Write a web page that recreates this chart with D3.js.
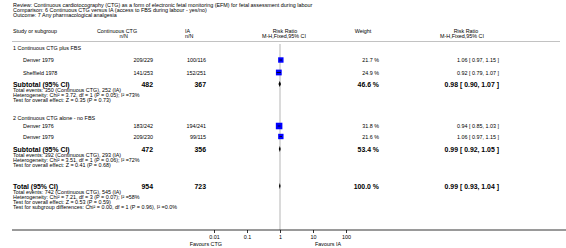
<!DOCTYPE html>
<html>
<head>
<meta charset="utf-8">
<script src="https://cdn.jsdelivr.net/npm/d3@7"></script>
<style>
  body { margin: 0; background: #fff; }
  text { font-family: "Liberation Sans", Arial, sans-serif; fill: #000; }
</style>
</head>
<body>
<div class="forest"></div>
<script>
// title lines
const titleLines = [
  "Review:  Continuous cardiotocography (CTG) as a form of electronic fetal monitoring (EFM) for fetal assessment during labour",
  "Comparison:  6 Continuous CTG versus IA (access to FBS during labour - yes/no)",
  "Outcome:  7 Any pharmacological analgesia"
]

// study rows
const groupNames = ["1 Continuous CTG plus FBS", "2 Continuous CTG alone - no FBS"]
const studies = ["Denver 1979", "Sheffield 1978", "Denver 1976", "Denver 1979"]
const ctgEvents = [209, 141, 183, 209]
const ctgTotal = [229, 253, 242, 230]
const iaEvents = [100, 152, 194, 99]
const iaTotal = [116, 251, 241, 115]
const weights = [21.7, 24.9, 31.8, 21.6]
const rr = [1.06, 0.92, 0.94, 1.06]
const rrLo = [0.97, 0.79, 0.85, 0.97]
const rrHi = [1.15, 1.07, 1.03, 1.15]

// subtotal / total rows
const subLabels = ["Subtotal (95% CI)", "Subtotal (95% CI)", "Total (95% CI)"]
const subCtg = [482, 472, 954]
const subIa = [367, 356, 723]
const subWeights = [46.6, 53.4, 100.0]
const subRR = [0.98, 0.99, 0.99]
const subLo = [0.90, 0.92, 0.93]
const subHi = [1.07, 1.05, 1.04]
const subStats = [
  ["Total events: 350 (Continuous CTG), 252 (IA)",
   "Heterogeneity: Chi² = 3.72, df = 1 (P = 0.05); I² =73%",
   "Test for overall effect: Z = 0.35 (P = 0.73)"],
  ["Total events: 392 (Continuous CTG), 293 (IA)",
   "Heterogeneity: Chi² = 3.51, df = 1 (P = 0.06); I² =72%",
   "Test for overall effect: Z = 0.41 (P = 0.68)"],
  ["Total events: 742 (Continuous CTG), 545 (IA)",
   "Heterogeneity: Chi² = 7.21, df = 3 (P = 0.07); I² =58%",
   "Test for overall effect: Z = 0.53 (P = 0.59)",
   "Test for subgroup differences: Chi² = 0.00, df = 1 (P = 0.96), I² =0.0%"]
]

const tickValues = [0.01, 0.1, 1, 10, 100]
const favours = ["Favours CTG", "Favours IA"]

// layout (row centres)
const groupY = [48, 118]
const studyY = [60, 72.5, 126, 136.5]
const subY = [84, 149, 186]
const axisY = 230

const width = 566, height = 248
const svg = d3.select(".forest").append("svg")
  .attr("width", width).attr("height", height)

const fmt2 = d3.format(".2f")
const small = "5.4px", bold = "6.9px"

function txt(x, y, s, opts = {}) {
  return svg.append("text")
    .attr("x", x).attr("y", y)
    .attr("dominant-baseline", "central")
    .attr("text-anchor", opts.anchor || "start")
    .attr("font-size", opts.size || small)
    .attr("font-weight", opts.weight || "normal")
    .text(s)
}

// header
titleLines.forEach((t, i) => txt(13, 4.5 + i * 5.2, t))
txt(13, 30.5, "Study or subgroup")
txt(117, 30.5, "Continuous CTG", {anchor: "middle"})
txt(128, 35.5, "n/N", {anchor: "end"})
txt(185, 30.5, "IA")
txt(185, 35.5, "n/N")
txt(285, 30.5, "Risk Ratio", {anchor: "middle"})
txt(284, 35.5, "M-H,Fixed,95% CI", {anchor: "middle"})
txt(363, 30.5, "Weight", {anchor: "middle"})
txt(466, 30.5, "Risk Ratio", {anchor: "middle"})
txt(462, 35.5, "M-H,Fixed,95% CI", {anchor: "middle"})
svg.append("line")
  .attr("x1", 12).attr("x2", 560).attr("y1", 41.5).attr("y2", 41.5)
  .attr("stroke", "#999").attr("stroke-width", 0.6)

// forest scale
const x = d3.scaleLog().domain([0.01, 100]).range([214, 346])

// line of no effect
svg.append("line")
  .attr("x1", x(1)).attr("x2", x(1)).attr("y1", 44).attr("y2", axisY)
  .attr("stroke", "#dadada").attr("stroke-width", 2)

// group headings
groupNames.forEach((g, i) => txt(13, groupY[i], g))

// studies
studies.forEach((s, i) => {
  const y = studyY[i]
  txt(23, y, s)
  txt(153, y, ctgEvents[i] + "/" + ctgTotal[i], {anchor: "end"})
  txt(206, y, iaEvents[i] + "/" + iaTotal[i], {anchor: "end"})
  txt(379, y, weights[i].toFixed(1) + " %", {anchor: "end"})
  txt(499, y, fmt2(rr[i]) + " [ " + fmt2(rrLo[i]) + ", " + fmt2(rrHi[i]) + " ]", {anchor: "end"})
})

svg.selectAll(".box")
  .data(studies)
  .join("rect")
    .attr("class", "box")
    .attr("x", (d, i) => x(rr[i]) - Math.sqrt(weights[i]) * 0.58)
    .attr("y", (d, i) => studyY[i] - Math.sqrt(weights[i]) * 0.58)
    .attr("width", (d, i) => Math.sqrt(weights[i]) * 1.16)
    .attr("height", (d, i) => Math.sqrt(weights[i]) * 1.16)
    .attr("fill", "#0000ff")

svg.selectAll(".ci")
  .data(studies)
  .join("line")
    .attr("class", "ci")
    .attr("x1", (d, i) => x(rrLo[i]))
    .attr("x2", (d, i) => x(rrHi[i]))
    .attr("y1", (d, i) => studyY[i])
    .attr("y2", (d, i) => studyY[i])
    .attr("stroke", "#000").attr("stroke-width", 0.8)

// subtotals and total
subLabels.forEach((s, i) => {
  const y = subY[i]
  txt(13, y, s, {size: bold, weight: "bold"})
  txt(153, y, subCtg[i], {anchor: "end", size: bold, weight: "bold"})
  txt(206, y, subIa[i], {anchor: "end", size: bold, weight: "bold"})
  txt(379, y, subWeights[i].toFixed(1) + " %", {anchor: "end", size: bold, weight: "bold"})
  txt(499, y, fmt2(subRR[i]) + " [ " + fmt2(subLo[i]) + ", " + fmt2(subHi[i]) + " ]",
    {anchor: "end", size: bold, weight: "bold"})
  subStats[i].forEach((t, j) => txt(13, y + 5.6 + j * 5.1, t))
})

svg.selectAll(".diamond")
  .data(subLabels)
  .join("polygon")
    .attr("class", "diamond")
    .attr("points", (d, i) => {
      const y = subY[i]
      return [[x(subLo[i]), y], [x(subRR[i]), y - 3], [x(subHi[i]), y], [x(subRR[i]), y + 3]]
        .map(p => p.join(",")).join(" ")
    })
    .attr("fill", "#000")

// axis
svg.append("line")
  .attr("x1", 12).attr("x2", 566).attr("y1", axisY).attr("y2", axisY)
  .attr("stroke", "#000").attr("stroke-width", 0.8)

const axis = svg.append("g")
  .attr("transform", `translate(0,${axisY})`)
  .call(d3.axisBottom(x).tickValues(tickValues).tickFormat(d => d).tickSize(3).tickPadding(2))
axis.select(".domain").remove()
axis.selectAll("line").attr("stroke-width", 0.8)
axis.selectAll("text")
  .attr("font-family", "Liberation Sans, Arial, sans-serif")
  .attr("font-size", small)

txt(222, 244, favours[0], {anchor: "end"})
txt(315, 244, favours[1])
</script>
</body>
</html>
